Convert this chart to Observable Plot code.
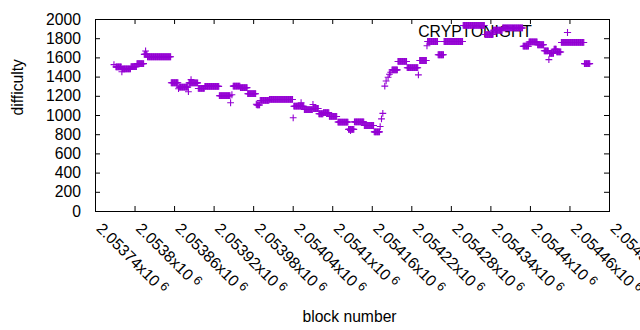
<!DOCTYPE html>
<html>
<head>
<meta charset="utf-8">
<script src="https://cdn.jsdelivr.net/npm/d3@7"></script>
<script src="https://cdn.jsdelivr.net/npm/@observablehq/plot@0.6"></script>
<style>
  html, body { margin: 0; padding: 0; background: #fff; }
  svg { font-family: "Liberation Sans", Arial, sans-serif; }
</style>
</head>
<body>
<script>
// Tick values and labels
const xTicks = [2053740, 2053800, 2053860, 2053920, 2053980, 2054040, 2054100,
                2054160, 2054220, 2054280, 2054340, 2054400, 2054460, 2054520];
const xTickLabels = ["2.05374", "2.0538", "2.05386", "2.05392", "2.05398", "2.05404", "2.0541",
                     "2.05416", "2.05422", "2.05428", "2.05434", "2.0544", "2.05446", "2.05452"];
const yTicks = [0, 200, 400, 600, 800, 1000, 1200, 1400, 1600, 1800, 2000];

// Difficulty per block, as runs of constant difficulty (first block, last block, value)
const runStart = [2053768, 2053771, 2053780, 2053781, 2053794, 2053803, 2053814, 2053816, 2053819, 2053855,
                  2053866, 2053867, 2053881, 2053882, 2053885, 2053896, 2053906, 2053928, 2053945, 2053947,
                  2053949, 2053960, 2053971, 2053984, 2053985, 2053990, 2054004, 2054040, 2054041, 2054052,
                  2054057, 2054070, 2054071, 2054079, 2054086, 2054095, 2054108, 2054124, 2054127, 2054133,
                  2054148, 2054163, 2054172, 2054174, 2054176, 2054179, 2054181, 2054184, 2054186, 2054188,
                  2054190, 2054199, 2054213, 2054230, 2054232, 2054243, 2054244, 2054260, 2054269, 2054298,
                  2054331, 2054344, 2054358, 2054389, 2054398, 2054411, 2054421, 2054428, 2054429, 2054436,
                  2054440, 2054447, 2054482];
const runEnd   = [2053768, 2053779, 2053780, 2053793, 2053802, 2053813, 2053818, 2053816, 2053854, 2053865,
                  2053866, 2053880, 2053881, 2053895, 2053885, 2053905, 2053927, 2053944, 2053945, 2053947,
                  2053959, 2053970, 2053983, 2053984, 2053989, 2054003, 2054039, 2054040, 2054056, 2054052,
                  2054069, 2054070, 2054078, 2054085, 2054094, 2054106, 2054123, 2054132, 2054127, 2054147,
                  2054162, 2054171, 2054172, 2054174, 2054176, 2054179, 2054181, 2054184, 2054186, 2054188,
                  2054198, 2054212, 2054229, 2054230, 2054242, 2054243, 2054259, 2054268, 2054297, 2054330,
                  2054343, 2054357, 2054388, 2054397, 2054410, 2054420, 2054427, 2054428, 2054435, 2054439,
                  2054446, 2054481, 2054490];
const runValue = [1530, 1507, 1455, 1486, 1509, 1540, 1637, 1672, 1612, 1341,
                  1279, 1296, 1248, 1340, 1374, 1282, 1303, 1206, 1133, 1216,
                  1306, 1290, 1227, 1117, 1110, 1157, 1167, 976, 1097, 1133,
                  1062, 1115, 1073, 1018, 1030, 990, 932, 855, 843, 934,
                  896, 829, 885, 965, 1022, 1306, 1360, 1398, 1430, 1450,
                  1475, 1563, 1498, 1423, 1573, 1726, 1771, 1633, 1771, 1938,
                  1843, 1888, 1912, 1722, 1766, 1737, 1674, 1582, 1648, 1690,
                  1662, 1761, 1540];

const seriesName = "CRYPTONIGHT";

// One row per block
const rows = [];
runStart.forEach((s, i) => {
  for (let b = s; b <= runEnd[i]; b++) rows.push({block: b, difficulty: runValue[i]});
});

const purple = "#9400d3";
const plusLine = {
  draw(ctx, size) {
    const r = Math.sqrt(size / Math.PI);
    ctx.moveTo(-r, 0); ctx.lineTo(r, 0);
    ctx.moveTo(0, -r); ctx.lineTo(0, r);
  }
};

const W = 640, H = 330, mL = 95, mR = 31, mT = 19, mB = 119;
const plotW = W - mL - mR, plotH = H - mT - mB;
const tl = 5;

const svg = Plot.plot({
  width: W, height: H,
  marginLeft: mL, marginRight: mR, marginTop: mT, marginBottom: mB,
  style: {fontFamily: '"Liberation Sans", Arial, sans-serif', fontSize: "15.7px", background: "#fff", color: "#000", overflow: "visible"},
  x: {domain: [2053740, 2054520], axis: null},
  y: {domain: [0, 2000], axis: null},
  marks: [
    // key
    Plot.text([seriesName], {frameAnchor: "top-right", dx: -77.6, dy: 12, textAnchor: "end", lineAnchor: "middle", fill: "#000", fontSize: 15.7}),
    Plot.dot([0], {frameAnchor: "top-right", dx: -42, dy: 13, symbol: plusLine, r: 3.6, stroke: purple, fill: "none", strokeWidth: 1.1}),
    // data
    Plot.dot(rows, {x: "block", y: "difficulty", symbol: plusLine, r: 3.4, stroke: purple, fill: "none", strokeWidth: 1.1}),
    // ticks (inward, mirrored)
    Plot.tickX(xTicks, {x: d => d, insetTop: plotH - tl, stroke: "#000"}),
    Plot.tickX(xTicks, {x: d => d, insetBottom: plotH - tl, stroke: "#000"}),
    Plot.tickY(yTicks, {y: d => d, insetRight: plotW - tl, stroke: "#000"}),
    Plot.tickY(yTicks, {y: d => d, insetLeft: plotW - tl, stroke: "#000"}),
    Plot.frame({stroke: "#000", strokeWidth: 1}),
    // tick labels
    Plot.text(yTicks, {y: d => d, text: d => String(d), frameAnchor: "left", dx: -14.5, textAnchor: "end", lineAnchor: "middle", fill: "#000"}),
    Plot.text(xTicks, {x: d => d, text: (d, i) => xTickLabels[i] + "x10", frameAnchor: "bottom", dy: 18, dx: 0, rotate: 45, textAnchor: "start", lineAnchor: "bottom", fill: "#000"}),
    // axis titles
    Plot.text(["difficulty"], {frameAnchor: "left", dx: -78, rotate: -90, lineAnchor: "middle", fill: "#000"}),
    Plot.text(["block number"], {frameAnchor: "bottom", dy: 105, dx: -3, lineAnchor: "middle", fill: "#000"})
  ]
});

// superscript exponent on the x tick labels
d3.select(svg).selectAll("text").each(function () {
  const t = this.textContent;
  if (t && t.endsWith("x10")) {
    d3.select(this).append("tspan").attr("dx", "0.3em").attr("dy", "-0.35em").attr("font-size", "0.8em").text("6");
  }
});

document.body.appendChild(svg);
</script>
</body>
</html>
